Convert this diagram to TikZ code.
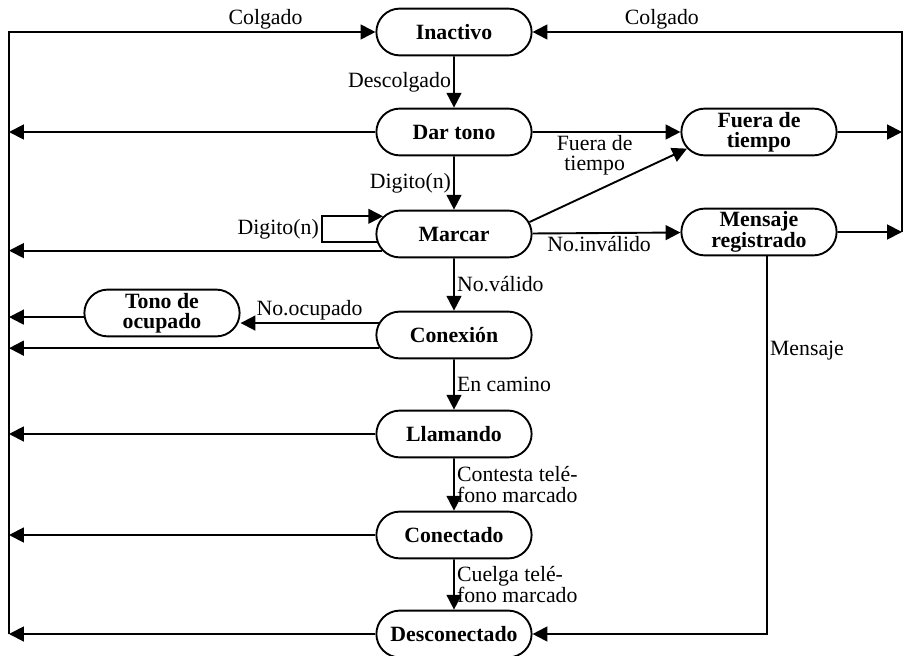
\documentclass[tikz,border=0pt]{standalone}
\usepackage{fontspec}
\setmainfont{Liberation Serif}
\usepackage{tikz}
\usetikzlibrary{shapes.misc,arrows.meta}

\begin{document}
\begin{tikzpicture}[x=0.025cm,y=-0.025cm,line width=1.35pt,
  estado/.style={draw,rounded rectangle,minimum width=3.95cm,minimum height=1.17cm,inner sep=1pt,
    font=\fontsize{15.5}{14}\selectfont\bfseries,align=center},
  flecha/.style={-{Triangle[length=10.5pt,width=10.5pt]}},
  etq/.style={font=\fontsize{15.5}{14.5}\selectfont,inner sep=1.5pt,align=left}]

\useasboundingbox (0,0) rectangle (908,656);

\node[estado] (ina) at (454,32) {Inactivo};
\node[estado] (dar) at (454,132) {Dar tono};
\node[estado] (mar) at (454,234) {Marcar};
\node[estado] (cxn) at (454,335) {Conexión};
\node[estado] (lla) at (454,434) {Llamando};
\node[estado] (cnt) at (454,535) {Conectado};
\node[estado] (des) at (454,634) {Desconectado};
\node[estado] (fue) at (759,132) {Fuera de\\tiempo};
\node[estado] (men) at (759,232) {Mensaje\\registrado};
\node[estado] (ocu) at (162,313) {Tono de\\ocupado};

\coordinate (lft) at (9,0);
\coordinate (rgt) at (902,0);

\draw[flecha] (des -| lft) -- (ina -| lft) -- node[etq,above,pos=.7]{Colgado} (ina);
\draw[flecha] (men -| rgt) -- (ina -| rgt) -- node[etq,above,pos=.65]{Colgado} (ina);
\draw[flecha] (ina) -- node[etq,left]{Descolgado} (dar);
\draw[flecha] (dar) -- (dar -| lft);
\draw[flecha] (dar) -- node[etq,left]{Digito(n)} (mar);
\draw[flecha] (dar) -- node[etq,below,pos=.42,align=center]{Fuera de\\tiempo} (fue);
\draw[flecha] (mar.9) -- (fue.193);
\draw[flecha] (mar) -- node[etq,below,pos=.45]{No.inválido} (men);
\draw[flecha] (mar.193) -- (mar.193 -| lft);
\draw[flecha] (mar.186) -- ++(-55,0) |- node[etq,left,pos=.25]{Digito(n)} (mar.166);
\draw[flecha] (mar) -- node[etq,right]{No.válido} (cxn);
\draw[flecha] (fue) -- (fue -| rgt);
\draw[flecha] (men) -- (men -| rgt);
\draw[flecha] (cxn.171) -- node[etq,above]{No.ocupado} (cxn.171 -| ocu.east);
\draw[flecha] (ocu.183) -- (ocu.183 -| lft);
\draw[flecha] (cxn.190) -- (cxn.190 -| lft);
\draw[flecha] (cxn) -- node[etq,right]{En camino} (lla);
\draw[flecha] (lla) -- (lla -| lft);
\draw[flecha] (lla) -- node[etq,right]{Contesta telé-\\fono marcado} (cnt);
\draw[flecha] (cnt) -- (cnt -| lft);
\draw[flecha] (cnt) -- node[etq,right]{Cuelga telé-\\fono marcado} (des);
\draw[flecha] (des) -- (des -| lft);
\draw[flecha] ([xshift=0.2cm]men.south) |- node[etq,right,pos=.125]{Mensaje} (des);

\end{tikzpicture}
\end{document}
